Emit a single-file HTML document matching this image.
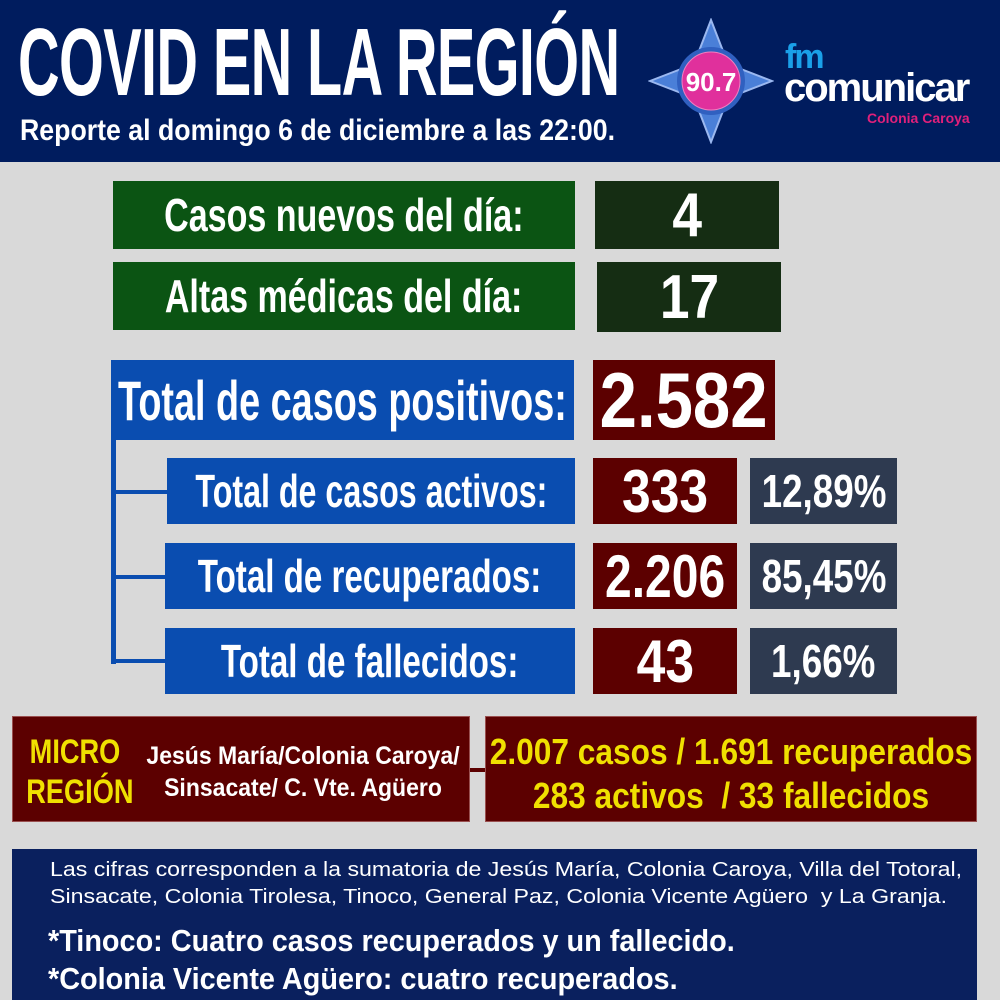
<!DOCTYPE html>
<html><head><meta charset="utf-8"><style>
*{margin:0;padding:0;box-sizing:border-box}
body{width:1000px;height:1000px;background:#d9d9d9;position:relative;overflow:hidden;font-family:"Liberation Sans",sans-serif;font-weight:bold;color:#fff}
.b{position:absolute;display:flex;align-items:center;justify-content:center;white-space:nowrap}
.b span{display:inline-block;transform:scaleX(0.74)}
.b.nm span{transform:scaleX(0.86)}
.t{position:absolute;white-space:nowrap;transform-origin:left top}
.g{background:#0b5413}.dg{background:#152d13}.bl{background:#0a4db0}.rd{background:#5c0000}.gy{background:#2e3a50}
.ln{position:absolute;background:#0a4db0}
</style></head><body>
<div style="position:absolute;left:0;top:0;width:1000px;height:162px;background:#001c5e"></div>
<div class="t" style="left:18px;top:8px;font-size:96px;letter-spacing:-1px;transform:scaleX(0.6)">COVID EN LA REGIÓN</div>
<div class="t" style="left:20px;top:114px;font-size:30px;transform:scaleX(0.89)">Reporte al domingo 6 de diciembre a las 22:00.</div>
<svg style="position:absolute;left:648px;top:18px" width="126" height="126" viewBox="0 0 126 126">
<polygon points="63,2 80,46 124,63 80,80 63,124 46,80 2,63 46,46" fill="#4a7fd8" stroke="#9bb8f0" stroke-width="2"/>
<circle cx="63" cy="63" r="34" fill="#3060c0"/>
<circle cx="63" cy="63" r="29" fill="#e0309c" stroke="#f080c0" stroke-width="1"/>
<text x="63" y="73" text-anchor="middle" font-family="Liberation Sans" font-size="26" fill="#fff">90.7</text>
</svg>
<div class="t" style="left:785px;top:38px;font-size:34px;color:#1aa0e8;letter-spacing:-2px">fm</div>
<div class="t" style="left:784px;top:66px;font-size:40px;color:#fff;letter-spacing:-2px">comunicar</div>
<div class="t" style="left:867px;top:110px;font-size:14px;color:#e0207a">Colonia Caroya</div>

<div class="b g" style="left:113px;top:181px;width:462px;height:68px;font-size:46px"><span>Casos nuevos del día:</span></div>
<div class="b dg nm" style="left:595px;top:181px;width:184px;height:68px;font-size:62px"><span>4</span></div>
<div class="b g" style="left:113px;top:262px;width:462px;height:68px;font-size:46px"><span>Altas médicas del día:</span></div>
<div class="b dg nm" style="left:597px;top:262px;width:184px;height:70px;font-size:62px"><span>17</span></div>

<div class="ln" style="left:111px;top:430px;width:5px;height:234px"></div>
<div class="ln" style="left:111px;top:490px;width:60px;height:4px"></div>
<div class="ln" style="left:111px;top:575px;width:60px;height:4px"></div>
<div class="ln" style="left:111px;top:659px;width:60px;height:4px"></div>
<div class="b bl" style="left:111px;top:360px;width:463px;height:80px;font-size:56px"><span style="transform:scaleX(0.675)">Total de casos positivos:</span></div>
<div class="b rd nm" style="left:593px;top:360px;width:182px;height:80px;font-size:78px"><span>2.582</span></div>

<div class="b bl" style="left:167px;top:458px;width:408px;height:66px;font-size:46px"><span style="transform:scaleX(0.7)">Total de casos activos:</span></div>
<div class="b rd nm" style="left:593px;top:458px;width:144px;height:66px;font-size:60px"><span>333</span></div>
<div class="b gy nm" style="left:750px;top:458px;width:147px;height:66px;font-size:46px"><span style="transform:scaleX(0.8)">12,89%</span></div>
<div class="b bl" style="left:165px;top:543px;width:410px;height:66px;font-size:46px"><span style="transform:scaleX(0.72)">Total de recuperados:</span></div>
<div class="b rd nm" style="left:593px;top:543px;width:144px;height:66px;font-size:60px"><span style="transform:scaleX(0.8)">2.206</span></div>
<div class="b gy nm" style="left:750px;top:543px;width:147px;height:66px;font-size:46px"><span style="transform:scaleX(0.8)">85,45%</span></div>
<div class="b bl" style="left:165px;top:628px;width:410px;height:66px;font-size:46px"><span style="transform:scaleX(0.72)">Total de fallecidos:</span></div>
<div class="b rd nm" style="left:593px;top:628px;width:144px;height:66px;font-size:60px"><span>43</span></div>
<div class="b gy nm" style="left:750px;top:628px;width:147px;height:66px;font-size:46px"><span style="transform:scaleX(0.8)">1,66%</span></div>

<div style="position:absolute;left:465px;top:768px;width:25px;height:4px;background:#5c0000"></div>
<div class="rd" style="position:absolute;left:12px;top:716px;width:458px;height:106px;border:1px solid #9a5050"></div>
<div class="t" style="left:14px;top:732px;width:122px;font-size:34px;line-height:40px;color:#f0e000;text-align:center;transform-origin:center top;transform:scaleX(0.8)">MICRO<br>REGIÓN</div>
<div class="t" style="left:103px;top:740px;width:400px;font-size:25px;line-height:32px;text-align:center;transform-origin:center top;transform:scaleX(0.92)">Jesús María/Colonia Caroya/<br>Sinsacate/ C. Vte. Agüero</div>
<div class="rd" style="position:absolute;left:485px;top:716px;width:492px;height:106px;border:1px solid #9a5050"></div>
<div class="t" style="left:431px;top:730px;width:600px;font-size:36px;line-height:44px;color:#f0e000;text-align:center;transform-origin:center top;transform:scaleX(0.88)">2.007 casos / 1.691 recuperados<br>283 activos&nbsp; / 33 fallecidos</div>

<div style="position:absolute;left:12px;top:849px;width:965px;height:151px;background:#0a205e"></div>
<div class="t" style="left:50px;top:856px;font-weight:normal;font-size:20.5px;line-height:27px;transform:scaleX(1.13)">Las cifras corresponden a la sumatoria de Jesús María, Colonia Caroya, Villa del Totoral,<br>Sinsacate, Colonia Tirolesa, Tinoco, General Paz, Colonia Vicente Agüero&nbsp; y La Granja.</div>
<div class="t" style="left:48px;top:922px;font-size:31px;line-height:38px;transform:scaleX(0.93)">*Tinoco: Cuatro casos recuperados y un fallecido.<br>*Colonia Vicente Agüero: cuatro recuperados.</div>
</body></html>
